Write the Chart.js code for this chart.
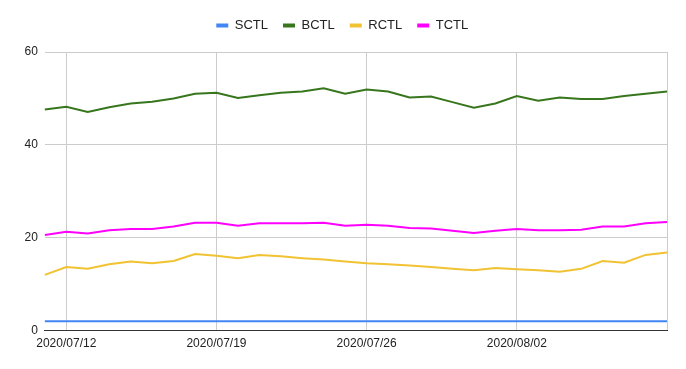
<!DOCTYPE html>
<html>
<head>
<meta charset="utf-8">
<script src="https://cdn.jsdelivr.net/npm/chart.js@4/dist/chart.umd.min.js"></script>
<style>
html,body{margin:0;padding:0;background:#fff;}
#wrap{width:686px;height:369px;position:relative;}
</style>
</head>
<body>
<div id="wrap"><canvas id="c"></canvas></div>
<script>
const dates = ["2020/07/11","2020/07/12","2020/07/13","2020/07/14","2020/07/15","2020/07/16","2020/07/17","2020/07/18","2020/07/19","2020/07/20","2020/07/21","2020/07/22","2020/07/23","2020/07/24","2020/07/25","2020/07/26","2020/07/27","2020/07/28","2020/07/29","2020/07/30","2020/07/31","2020/08/01","2020/08/02","2020/08/03","2020/08/04","2020/08/05","2020/08/06","2020/08/07","2020/08/08","2020/08/09"];
const shownLabels = ["2020/07/12","2020/07/19","2020/07/26","2020/08/02"];
const gridDates = ["2020/07/12","2020/07/19","2020/07/26","2020/08/02","2020/08/09"];
const SCTL = [2,2,2,2,2,2,2,2,2,2,2,2,2,2,2,2,2,2,2,2,2,2,2,2,2,2,2,2,2,2];
const BCTL = [47.6,48.2,47.1,48.1,48.9,49.3,50.0,51.0,51.2,50.1,50.7,51.2,51.5,52.2,51.0,51.9,51.5,50.2,50.4,49.2,48.0,48.9,50.5,49.5,50.2,49.9,49.9,50.5,51.0,51.5];
const RCTL = [12.0,13.7,13.3,14.3,14.9,14.5,15.0,16.5,16.1,15.6,16.3,16.0,15.6,15.3,14.9,14.5,14.3,14.0,13.7,13.3,13.0,13.5,13.2,13.0,12.7,13.3,15.0,14.6,16.3,16.8];
const TCTL = [20.6,21.3,20.9,21.6,21.9,21.9,22.4,23.2,23.2,22.6,23.1,23.1,23.1,23.2,22.6,22.8,22.6,22.1,22.0,21.5,21.0,21.5,21.9,21.6,21.6,21.7,22.4,22.4,23.1,23.4];
const yTicks = [0,20,40,60];

const mk = (label, data, color) => ({label, data, borderColor: color, backgroundColor: color, borderWidth: 2, pointRadius: 0, tension: 0, fill: false});

const legendGap = {
  id: 'legendGap',
  beforeInit(chart) {
    const orig = chart.legend.fit;
    chart.legend.fit = function() { orig.call(this); this.height += 10; };
  }
};

new Chart(document.getElementById('c'), {
  type: 'line',
  data: {
    labels: dates,
    datasets: [
      mk('SCTL', SCTL, '#4285F4'),
      mk('BCTL', BCTL, '#38761D'),
      mk('RCTL', RCTL, '#F1C232'),
      mk('TCTL', TCTL, '#FF00FF')
    ]
  },
  plugins: [legendGap],
  options: {
    responsive: true,
    maintainAspectRatio: false,
    animation: false,
    layout: {padding: {left: 17.5, right: 19, top: 4, bottom: 12}},
    plugins: {
      legend: {
        position: 'top',
        labels: {
          boxWidth: 12, boxHeight: 4, padding: 15,
          color: '#222',
          font: {family: 'Liberation Sans, Arial, sans-serif', size: 13},
          generateLabels: (chart) => chart.data.datasets.map((d, i) => ({
            text: d.label, fillStyle: d.borderColor, strokeStyle: d.borderColor, lineWidth: 0, datasetIndex: i, hidden: false, fontColor: '#222'
          }))
        }
      },
      tooltip: {enabled: false}
    },
    scales: {
      x: {
        offset: false,
        grid: {
          drawTicks: false,
          color: (ctx) => (ctx.tick && gridDates.includes(dates[ctx.index])) ? '#cccccc' : 'rgba(0,0,0,0)',
          lineWidth: 1
        },
        border: {display: true, color: '#333333', width: 1},
        ticks: {
          autoSkip: false, maxRotation: 0, minRotation: 0, padding: 6,
          color: '#222',
          font: {family: 'Liberation Sans, Arial, sans-serif', size: 12},
          callback: function(v, i) { return shownLabels.includes(dates[i]) ? dates[i] : ''; }
        }
      },
      y: {
        min: 0, max: 60,
        afterBuildTicks: (axis) => { axis.ticks = yTicks.map(v => ({value: v})); },
        grid: {drawTicks: false, color: '#cccccc', lineWidth: 1},
        border: {display: false},
        ticks: {
          padding: 7, color: '#222',
          font: {family: 'Liberation Sans, Arial, sans-serif', size: 12}
        }
      }
    }
  }
});
</script>
</body>
</html>
